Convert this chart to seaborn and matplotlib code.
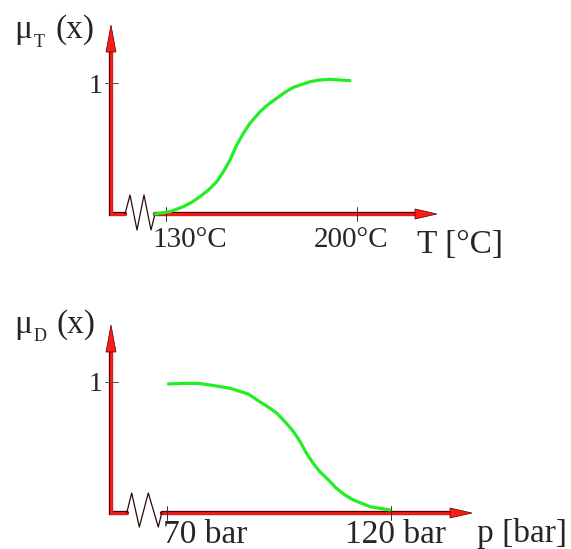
import seaborn as sns
import matplotlib.pyplot as plt
import matplotlib.patheffects as pe
from matplotlib.patches import Polygon

# membership curve mu_T over temperature
temp_c = [126.0, 131.5, 136.3, 139.4, 142.4, 145.5, 148.6, 151.0, 153.4, 155.9, 158.3,
          160.7, 164.4, 167.4, 170.5, 173.5, 176.6, 182.7, 186.3, 190.0, 197.3]
mu_temp = [0.0, 0.018, 0.056, 0.089, 0.132, 0.183, 0.247, 0.323, 0.412, 0.527, 0.616,
           0.692, 0.781, 0.837, 0.883, 0.929, 0.967, 1.010, 1.023, 1.028, 1.018]
temp_ticks = [130, 200]
temp_tick_labels = ['130°C', '200°C']

# membership curve mu_D over pressure
press_bar = [70.4, 74.5, 77.4, 79.7, 84.2, 88.2, 90.8, 93.1, 94.6, 96.4, 98.3, 99.8,
             101.2, 102.7, 104.2, 106.1, 107.9, 109.8, 111.7, 113.5, 115.4, 119.8]
mu_press = [0.985, 0.990, 0.988, 0.977, 0.952, 0.908, 0.849, 0.799, 0.761, 0.697, 0.621, 0.544,
            0.456, 0.379, 0.315, 0.252, 0.188, 0.137, 0.099, 0.074, 0.048, 0.023]
press_ticks = [70, 120]
press_tick_labels = ['70 bar', '120 bar']

sns.set_style('white')
plt.rcParams['font.family'] = ['Liberation Serif', 'DejaVu Serif']

W, H = 571, 549
fig = plt.figure(figsize=(W / 100, H / 100), dpi=100)

RED = '#ff1a1a'
EDGE = '#500000'
GREEN = '#22ee22'
axis_fx = [pe.Stroke(linewidth=3.1, foreground=EDGE), pe.Normal()]


def make_panel(top_px, bot_px, ticks, tick_px, y_px):
    # one axes over a horizontal band of the figure, calibrated so the ticks land where they should
    ax = fig.add_axes([0, 1 - bot_px / H, 1, (bot_px - top_px) / H])
    sx = (ticks[1] - ticks[0]) / (tick_px[1] - tick_px[0])
    sy = 1.0 / (y_px[0] - y_px[1])
    fx = lambda px: ticks[0] + (px - tick_px[0]) * sx
    fy = lambda py: (y_px[0] - py) * sy
    ax.set_xlim(fx(0), fx(W))
    ax.set_ylim(fy(bot_px), fy(top_px))
    ax.axis('off')
    return ax, fx, fy


def draw_frame(ax, fx, fy, x0, y0, v_tip, h_tip, zig, ticks, y_one):
    # vertical axis + short horizontal piece before the break
    ax.plot([fx(x0), fx(x0), fx(zig[0][0])], [fy(v_tip + 27), fy(y0), fy(y0)],
            color=RED, lw=2.0, solid_joinstyle='miter', path_effects=axis_fx, zorder=2)
    # axis break
    ax.plot([fx(p[0]) for p in zig], [fy(p[1]) for p in zig], color='#300808', lw=0.9, zorder=3)
    # horizontal axis after the break
    ax.plot([fx(zig[-1][0]), fx(h_tip - 21)], [fy(y0), fy(y0)],
            color=RED, lw=2.0, path_effects=axis_fx, zorder=2)
    # arrow heads
    ax.add_patch(Polygon([(fx(x0), fy(v_tip)), (fx(x0 - 5), fy(v_tip + 27)), (fx(x0 + 5), fy(v_tip + 27))],
                         closed=True, fc=RED, ec=EDGE, lw=0.5, zorder=3))
    ax.add_patch(Polygon([(fx(h_tip), fy(y0)), (fx(h_tip - 22), fy(y0 - 5)), (fx(h_tip - 22), fy(y0 + 5))],
                         closed=True, fc=RED, ec=EDGE, lw=0.5, zorder=3))
    # tick marks
    for t in ticks:
        ax.plot([t, t], [fy(y0 - 7), fy(y0 + 7)], color='#333333', lw=0.7, zorder=4)
    ax.plot([fx(x0 - 6), fx(x0 + 7)], [1, 1], color='#555555', lw=0.7, zorder=4)
    ax.text(fx(102), fy(y_one), '1', ha='right', va='baseline', fontsize=20)


# ---- top panel: temperature ----
ax1, fx1, fy1 = make_panel(0, 275, temp_ticks, (166, 357.3), (214, 83))
draw_frame(ax1, fx1, fy1, 111, 214, 25, 437,
           [(125, 214), (130, 195), (137, 230), (144, 195), (151, 230), (155, 214)],
           temp_ticks, 93)
sns.lineplot(x=temp_c, y=mu_temp, ax=ax1, color=GREEN, lw=2.3, solid_capstyle='round', zorder=5)
ax1.text(fx1(190), fy1(247), temp_tick_labels[0], ha='center', va='baseline', fontsize=21)
ax1.text(fx1(351), fy1(247), temp_tick_labels[1], ha='center', va='baseline', fontsize=21)
ax1.text(fx1(417), fy1(253), 'T [°C]', ha='left', va='baseline', fontsize=24)
ax1.text(fx1(14), fy1(38), 'μ', ha='left', va='baseline', fontsize=24)
ax1.text(fx1(34), fy1(47), 'T', ha='left', va='baseline', fontsize=13)
ax1.text(fx1(56), fy1(38), '(x)', ha='left', va='baseline', fontsize=24)
ax1.set_xlabel('')

# ---- bottom panel: pressure ----
ax2, fx2, fy2 = make_panel(275, H, press_ticks, (166.7, 390.7), (513, 382))
draw_frame(ax2, fx2, fy2, 111, 513, 325, 472,
           [(126.7, 513), (131.7, 493), (139.3, 527), (148.3, 493), (158.3, 527), (161.7, 513)],
           press_ticks, 391)
sns.lineplot(x=press_bar, y=mu_press, ax=ax2, color=GREEN, lw=2.3, solid_capstyle='round', zorder=5)
ax2.text(fx2(163), fy2(543), press_tick_labels[0], ha='left', va='baseline', fontsize=24)
ax2.text(fx2(345), fy2(543), press_tick_labels[1], ha='left', va='baseline', fontsize=24)
ax2.text(fx2(477), fy2(542), 'p [bar]', ha='left', va='baseline', fontsize=24)
ax2.text(fx2(14), fy2(333), 'μ', ha='left', va='baseline', fontsize=24)
ax2.text(fx2(34), fy2(341), 'D', ha='left', va='baseline', fontsize=13)
ax2.text(fx2(56), fy2(333), '(x)', ha='left', va='baseline', fontsize=24)

fig.savefig('out.png', dpi=100)
